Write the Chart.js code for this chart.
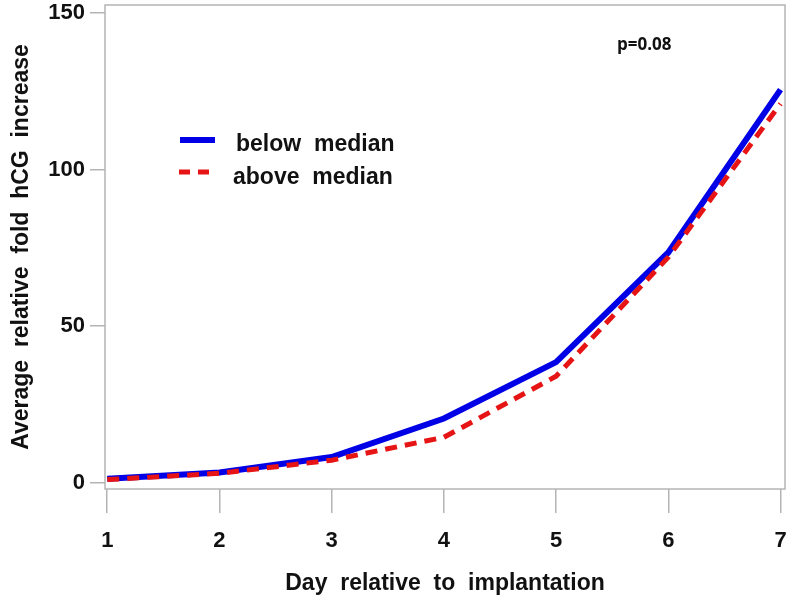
<!DOCTYPE html>
<html>
<head>
<meta charset="utf-8">
<script src="https://cdn.jsdelivr.net/npm/chart.js@4"></script>
<style>
  html, body { margin: 0; padding: 0; background: #fff; }
  #wrap { width: 800px; height: 605px; position: relative; }
</style>
</head>
<body>
<div id="wrap"><canvas id="hcg-chart"></canvas></div>
<script>
// values
const days = [1, 2, 3, 4, 5, 6, 7];
const belowMedian = [1.3, 3.3, 8.2, 20.5, 38.5, 73.5, 125.5];
const aboveMedian = [1.0, 3.0, 7.2, 14.5, 34.0, 72.0, 121.0];
const yTicks = [0, 50, 100, 150];
const xTicks = [1, 2, 3, 4, 5, 6, 7];

const boxColor = '#b4b4b4';
const tickFont = { family: 'Liberation Sans', weight: 'bold', size: 22 };

// frame round the plot area, plus legend and p-value text
const extras = {
    id: 'extras',
    afterDraw(chart) {
        const ctx = chart.ctx;
        const a = chart.chartArea;
        ctx.save();
        ctx.strokeStyle = boxColor;
        ctx.lineWidth = 1.5;
        ctx.strokeRect(a.left, a.top, a.right - a.left, a.bottom - a.top);

        // legend
        ctx.lineCap = 'butt';
        ctx.strokeStyle = '#0000e6';
        ctx.lineWidth = 6;
        ctx.setLineDash([]);
        ctx.beginPath(); ctx.moveTo(180, 140); ctx.lineTo(215, 140); ctx.stroke();
        ctx.strokeStyle = '#e61414';
        ctx.lineWidth = 5;
        ctx.setLineDash([11, 8]);
        ctx.beginPath(); ctx.moveTo(179, 172); ctx.lineTo(211, 172); ctx.stroke();
        ctx.setLineDash([]);

        ctx.fillStyle = '#111';
        ctx.textBaseline = 'middle';
        ctx.font = 'bold 23px "Liberation Sans"';
        ctx.fillText('below  median', 236, 145);
        ctx.fillText('above  median', 233, 178);

        ctx.font = 'bold 17px "Open Sans"';
        ctx.fillText('p=0.08', 617, 45);
        ctx.restore();
    }
};

new Chart(document.getElementById('hcg-chart'), {
    type: 'line',
    data: {
        datasets: [
            {
                label: 'below median',
                data: days.map((d, i) => ({ x: d, y: belowMedian[i] })),
                borderColor: '#0000e6',
                borderWidth: 6,
                pointRadius: 0,
                tension: 0,
                order: 2
            },
            {
                label: 'above median',
                data: days.map((d, i) => ({ x: d, y: aboveMedian[i] })),
                borderColor: '#e61414',
                borderWidth: 5,
                borderDash: [12, 8],
                pointRadius: 0,
                tension: 0,
                order: 1
            }
        ]
    },
    options: {
        responsive: true,
        maintainAspectRatio: false,
        animation: false,
        layout: { padding: { top: 5, right: 15, left: 0, bottom: 0 } },
        plugins: {
            legend: { display: false },
            tooltip: { enabled: false }
        },
        scales: {
            x: {
                type: 'linear',
                min: 0.98,
                max: 7.04,
                afterBuildTicks: s => { s.ticks = xTicks.map(v => ({ value: v })); },
                afterFit: s => { s.height = 116; s.paddingLeft = 0; s.paddingRight = 0; },
                border: { display: false },
                grid: {
                    drawOnChartArea: false,
                    drawTicks: true,
                    tickLength: 24,
                    color: boxColor,
                    lineWidth: 1.5
                },
                ticks: {
                    color: '#111',
                    font: tickFont,
                    padding: 15,
                    maxRotation: 0
                },
                title: {
                    display: true,
                    text: 'Day  relative  to  implantation',
                    color: '#111',
                    font: { family: 'Liberation Sans', weight: 'bold', size: 23 },
                    padding: { top: 0, bottom: 8 }
                }
            },
            y: {
                min: -2,
                max: 152.5,
                afterBuildTicks: s => { s.ticks = yTicks.map(v => ({ value: v })); },
                afterFit: s => { s.width = 105; s.paddingTop = 0; s.paddingBottom = 0; },
                border: { display: false },
                grid: {
                    drawOnChartArea: false,
                    drawTicks: true,
                    tickLength: 15,
                    color: boxColor,
                    lineWidth: 1.5
                },
                ticks: {
                    color: '#111',
                    font: tickFont,
                    padding: 5
                },
                title: {
                    display: true,
                    text: 'Average  relative  fold  hCG  increase',
                    color: '#111',
                    font: { family: 'Liberation Sans', weight: 'bold', size: 23 },
                    padding: { top: 8, bottom: 4 }
                }
            }
        }
    },
    plugins: [extras]
});
</script>
</body>
</html>
